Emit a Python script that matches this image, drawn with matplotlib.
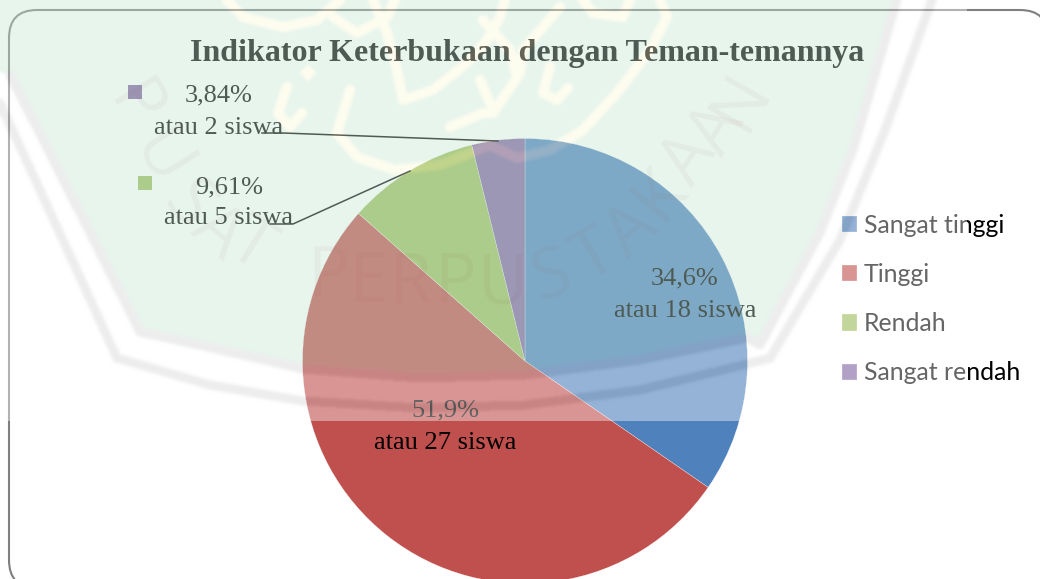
import numpy as np
import matplotlib
matplotlib.use("Agg")
import matplotlib.pyplot as plt
from matplotlib.patches import FancyBboxPatch, Rectangle
from matplotlib.path import Path

categories = ["Sangat tinggi", "Tinggi", "Rendah", "Sangat rendah"]
siswa = [18, 27, 5, 2]
persen_labels = ["34,6%", "51,9%", "9,61%", "3,84%"]
siswa_labels = ["atau 18 siswa", "atau 27 siswa", "atau 5 siswa", "atau 2 siswa"]
colors = ["#4F81BD", "#C0504D", "#9BBB59", "#8064A2"]
title = "Indikator Keterbukaan dengan Teman-temannya"

W, H = 1040, 579

# label places in pixels (x, y of first line, y of second line)
label_pos = [(685, 278, 311), (445, 410, 443), (229, 187, 218), (219, 95, 128)]

# watermark outline, all in pixels
veil_w, veil_h = 967, 421
shield = [(0, 0), (0, 72), (10, 75), (140, 332), (230, 352), (303, 369), (420, 378), (525, 375),
          (640, 360), (747, 338), (760, 345), (820, 233), (853, 150), (897, 0)]
band_inner = shield[2:]
band_outer = [(0, 103), (117, 358), (210, 385), (303, 401), (420, 408), (525, 405), (640, 390),
              (747, 364), (770, 358), (840, 240), (885, 130), (932, 0)]
yellow_strokes = [
    [(350, 90), (337, 133), (357, 157), (395, 170), (440, 165), (490, 145), (517, 158), (550, 150),
     (583, 130), (617, 93), (650, 50), (667, 17), (660, 0)],
    [(227, 0), (243, 17), (283, 27), (317, 20), (340, 0)],
    [(333, 17), (357, 33), (387, 17), (395, 0)],
    [(373, 0), (387, 33), (397, 70), (403, 100), (433, 90), (467, 63), (487, 40), (500, 17), (505, 0)],
    [(287, 87), (278, 113), (290, 127), (302, 113)],
    [(450, 127), (483, 113), (493, 113), (520, 73), (523, 50), (543, 27), (560, 7)],
    [(483, 20), (510, 50), (517, 77)],
    [(550, 67), (543, 93), (557, 100), (568, 88)],
    [(583, 0), (593, 13), (623, 17), (630, 0)],
    [(490, 103), (480, 80)],
]
diamond = [(308, 73)]
wm_letters = [("P", 133, 107, -58), ("U", 160, 160, -58), ("S", 187, 207, -50), ("A", 217, 233, -40),
              ("T", 250, 247, -32), ("P", 328, 278, 0), ("E", 368, 284, 0), ("R", 410, 285, 0),
              ("P", 455, 285, 0), ("U", 503, 285, 0), ("S", 552, 278, 15), ("T", 595, 258, 30),
              ("A", 632, 232, 42), ("K", 660, 195, 50), ("A", 690, 160, 55), ("A", 718, 130, 58),
              ("N", 742, 102, 60)]


def stroke_mask(xx, yy, pts, width):
    pts = np.array(pts, dtype=float)
    d = np.full(xx.shape, 1e9)
    for a, b in zip(pts[:-1], pts[1:]):
        ab = b - a
        t = ((xx - a[0]) * ab[0] + (yy - a[1]) * ab[1]) / (ab @ ab)
        t = np.clip(t, 0, 1)
        d = np.minimum(d, np.hypot(xx - a[0] - t * ab[0], yy - a[1] - t * ab[1]))
    return d <= width / 2


def soften(rgb, passes=3):
    for i in range(passes):
        for axis in (0, 1):
            pad = [(1, 1) if k == axis else (0, 0) for k in range(3)]
            p = np.pad(rgb, pad, mode="edge")
            rgb = (np.take(p, range(1, p.shape[axis] - 1), axis=axis)
                   + np.take(p, range(0, p.shape[axis] - 2), axis=axis)
                   + np.take(p, range(2, p.shape[axis]), axis=axis)) / 3
    return rgb


def make_veil():
    xx, yy = np.meshgrid(np.arange(veil_w) + 0.5, np.arange(veil_h) + 0.5)
    img = np.ones((veil_h, veil_w, 4))
    inside = Path(shield).contains_points(np.c_[xx.ravel(), yy.ravel()]).reshape(xx.shape)
    img[inside, :3] = np.array([197, 230, 212]) / 255
    yellow = np.array([252, 250, 215]) / 255
    for s in yellow_strokes:
        img[stroke_mask(xx, yy, s, 10), :3] = yellow
    for x, y in diamond:
        img[np.abs(xx - x) + np.abs(yy - y) < 9, :3] = yellow
    for s in (band_inner, band_outer):
        img[stroke_mask(xx, yy, s, 9), :3] = np.array([212, 212, 212]) / 255
    img[:, :, :3] = soften(img[:, :, :3])
    img[:, :, 3] = 0.4
    return img


fig = plt.figure(figsize=(W / 100, H / 100), dpi=100)
ax = fig.add_axes([0, 0, 1, 1])

ax.add_patch(FancyBboxPatch((9, 10), 1039, 578, boxstyle="round,pad=0,rounding_size=28",
                            fc="white", ec="#7f7f7f", lw=1.5, zorder=0))

# y axis is flipped so counterclock here runs clockwise on screen
wedges, _ = ax.pie(siswa, colors=colors, center=(525, 361), radius=222.5, startangle=270,
                   counterclock=True, frame=True)
for w in wedges:
    w.set_zorder(1)
    w.set_edgecolor("white")
    w.set_linewidth(0.2)

serif = "Liberation Serif"
ax.text(527, 53, title, family=serif, weight="bold", fontsize=23, color="black",
        ha="center", va="center", zorder=3)
for (x, y1, y2), p, s in zip(label_pos, persen_labels, siswa_labels):
    ax.text(x, y1, p, family=serif, fontsize=19, color="black", ha="center", va="center", zorder=3)
    ax.text(x, y2, s, family=serif, fontsize=19, color="black", ha="center", va="center", zorder=3)

# little keys next to the outside labels
ax.add_patch(Rectangle((128, 85), 14, 14, fc=colors[3], ec="none", zorder=3))
ax.add_patch(Rectangle((138, 176), 14, 14, fc=colors[2], ec="none", zorder=3))

# leader lines
ax.plot([262, 283, 498], [133, 133, 141], color="black", lw=1.1, zorder=3)
ax.plot([270, 293, 410], [224, 224, 171], color="black", lw=1.1, zorder=3)

ax.imshow(make_veil(), extent=(0, veil_w, veil_h, 0), interpolation="bilinear", aspect="auto", zorder=5)

for ch, x, y, rot in wm_letters:
    ax.text(x, y, ch, family="Open Sans", fontsize=50, color="#A04040", alpha=0.05,
            rotation=rot, ha="center", va="center", zorder=6)

leg = ax.legend(wedges, categories, loc="upper left", bbox_to_anchor=(842 / W, 1 - 214 / H),
                bbox_transform=fig.transFigure, frameon=False, borderpad=0, borderaxespad=0,
                prop={"family": "Lato", "size": 17.9}, handlelength=0.62, handleheight=0.62,
                handletextpad=0.26, labelspacing=1.05, labelcolor="black")
leg.set_zorder(3)

ax.set_xlim(0, W)
ax.set_ylim(H, 0)
ax.set_aspect("auto")
ax.set_xticks([])
ax.set_yticks([])
ax.set_frame_on(False)

fig.savefig("out.png", dpi=100)
